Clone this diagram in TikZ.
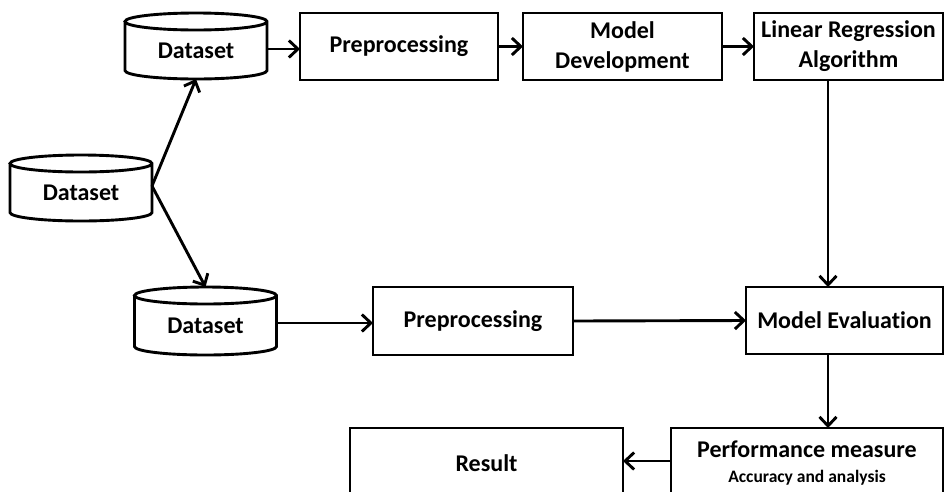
\documentclass[tikz,border=0pt]{standalone}
\usepackage{fontspec}
\setmainfont[Ligatures=NoCommon]{Carlito}
\usetikzlibrary{arrows.meta,calc}
\begin{document}
\begin{tikzpicture}[x=1pt,y=-1pt,
  lw/.style={line width=2.9pt},
  txt/.style={font=\bfseries\fontsize{24}{30}\selectfont, align=center, inner sep=0pt, outer sep=0pt},
  box/.style={txt, draw, lw, rectangle},
  dbase/.style={txt, rectangle, minimum width=142pt, text height=25pt, text depth=0pt},
  arr/.style={lw, -{Straight Barb[length=9pt,width=17pt,line width=2.9pt]}}]
\useasboundingbox (0,0) rectangle (944,491);
\clip (0,0) rectangle (944,491);

% cylinder outline around a dataset node
\newcommand{\drawcyl}[1]{%
  \draw[lw] ([yshift=-8.5pt]#1.north west) -- ([yshift=8.5pt]#1.south west)
    arc[start angle=180,end angle=360,x radius=71pt,y radius=8.5pt]
    -- ([yshift=-8.5pt]#1.north east)
    arc[start angle=0,end angle=180,x radius=71pt,y radius=8.5pt]
    arc[start angle=180,end angle=360,x radius=71pt,y radius=8.5pt];}

\node[dbase, minimum height=66pt] (ds1) at (196,46) {Dataset};
\node[dbase, minimum height=66pt] (ds0) at (81,188) {Dataset};
\node[dbase, minimum height=68pt] (ds2) at (205.5,321) {Dataset};
\drawcyl{ds1}
\drawcyl{ds0}
\drawcyl{ds2}

\node[box, minimum width=198pt, minimum height=67pt] (pre1) at (399,46.5) {Preprocessing};
\node[box, minimum width=199pt, minimum height=67pt] (md) at (622.5,46.5) {Model\\Development};
\node[box, minimum width=189pt, minimum height=67pt] (lr) at (848.5,46.5) {Linear Regression\\Algorithm};
\node[box, minimum width=200pt, minimum height=68pt] (pre2) at (473,321) {Preprocessing};
\node[box, minimum width=197pt, minimum height=67pt] (me) at (844.5,320.5) {Model Evaluation};
\node[box, minimum width=272pt, minimum height=70pt] (perf) at (807,463) {Performance measure\\[-5pt]{\fontsize{17.5}{20}\selectfont Accuracy and analysis}};
\node[box, minimum width=273pt, minimum height=70pt] (res) at (486.5,463) {Result};

% connectors
\draw[arr] ([yshift=-3pt]ds1.east) -- ([yshift=-3pt]ds1.east -| pre1.west);
\draw[arr] (pre1.east) -- (md.west);
\draw[arr] (md.east) -- (lr.west);
\draw[arr] ([yshift=2pt]ds0.east) -- (ds1.south);
\draw[arr] ([yshift=2pt]ds0.east) -- (ds2.north);
\draw[arr] ([yshift=-2pt]ds2.east) -- ([yshift=-2pt]ds2.east -| pre2.west);
\draw[arr] (pre2.east) -- (me.west);
\coordinate (lrb) at ([xshift=-20.5pt]lr.south);
\draw[arr] (lrb) -- (lrb |- me.north);
\coordinate (meb) at ([xshift=-16.5pt]me.south);
\draw[arr] (meb) -- (meb |- perf.north);
\draw[arr] ([yshift=2pt]perf.west) -- ([yshift=2pt]res.east);
\end{tikzpicture}
\end{document}
